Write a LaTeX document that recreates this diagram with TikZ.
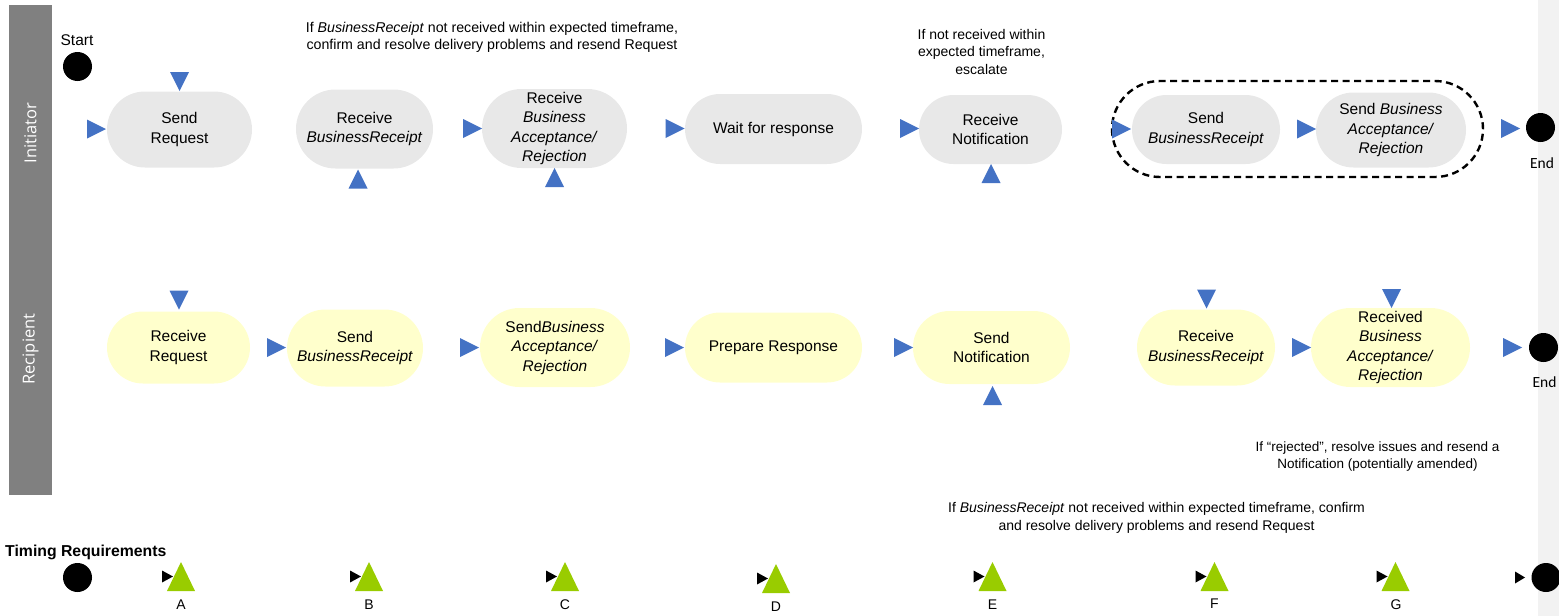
\documentclass[tikz,border=0pt]{standalone}
\usepackage{fontspec}
\setmainfont{Liberation Sans}
\newfontfamily\lanefont{Open Sans}
\newfontfamily\endfont{Carlito}
\definecolor{flowblue}{HTML}{4472C4}
\definecolor{inigray}{HTML}{E8E8E8}
\definecolor{recyellow}{HTML}{FFFFCC}
\definecolor{timegreen}{HTML}{99CC00}
\definecolor{lanegray}{HTML}{808080}
\definecolor{stripgray}{HTML}{F2F2F2}

\begin{document}
\begin{tikzpicture}[x=1pt, y=-1pt,
    box/.style={rectangle, rounded corners=#1, minimum height=2*#1, inner sep=0pt, align=center, font=\fontsize{15.5}{19.5}\selectfont},
    ini/.style={box=#1, fill=inigray},
    rec/.style={box=#1, fill=recyellow},
    note/.style={align=center, inner sep=0pt, font=\fontsize{14}{17.5}\selectfont},
    lane/.style={rotate=90, text=white, inner sep=0pt, font=\lanefont\fontsize{16.5}{16.5}\selectfont},
    endlabel/.style={inner sep=0pt, font=\endfont\fontsize{15.5}{15.5}\selectfont},
    dot/.style={circle, fill=black, minimum size=29pt, inner sep=0pt},
    groupbox/.style={line width=2.4pt, dash pattern=on 7pt off 4.5pt, rounded corners=48pt},
    rtri/.pic={\fill[flowblue] (-9.5,-9.5) -- (9.5,0) -- (-9.5,9.5) -- cycle;},
    dtri/.pic={\fill[flowblue] (-9.5,-9.5) -- (9.5,-9.5) -- (0,9.5) -- cycle;},
    utri/.pic={\fill[flowblue] (-9.5,9.5) -- (9.5,9.5) -- (0,-9.5) -- cycle;},
    timer/.pic={\fill[black] (-19,-6) -- (-8,0) -- (-19,6) -- cycle;
      \fill[timegreen] (-14,14.5) -- (14,14.5) -- (0,-14.5) -- cycle;}
  ]
  \useasboundingbox (0,0) rectangle (1559,616);
  % lanes
  \fill[stripgray] (1538,0) rectangle (1559,616);
  \fill[lanegray] (9,5) rectangle (52,495);
  \node[lane] (lanei) at (30.5,133) {Initiator};
  \node[lane] (laner) at (30.5,349) {Recipient};

  % Initiator
  \node[inner sep=0pt, font=\fontsize{15.5}{15.5}\selectfont] (startlbl) at (77,40.5) {Start};
  \node[dot] (start) at (77.5,66.5) {};
  \node[ini=38pt, minimum width=145pt] (ini1) at (179.5,129.5) {Send\\Request};
  \node[ini=39.5pt, minimum width=137pt] (ini2) at (364.5,129) {Receive\\\textit{BusinessReceipt}};
  \node[ini=39.5pt, minimum width=145pt] (ini3) at (554.5,128.5) {Receive\\\textit{Business}\\\textit{Acceptance/}\\\textit{Rejection}};
  \node[ini=35pt, minimum width=177pt] (ini4) at (773.5,129) {Wait for response};
  \node[ini=34.5pt, minimum width=143pt] (ini5) at (990.5,129.5) {Receive\\Notification};
  \node[ini=34.5pt, minimum width=148pt] (ini6) at (1206,129.5) {Send\\\textit{BusinessReceipt}};
  \node[ini=37.5pt, minimum width=150pt] (ini7) at (1391,130) {Send \textit{Business}\\\textit{Acceptance/}\\\textit{Rejection}};
  \draw[groupbox] (1112,81) rectangle (1483,177);
  \node[dot] (inienda) at (1540.5,127.5) {};
  \node[endlabel] (iniend) at (1542,163) {End};

  \node[note, font=\fontsize{14.2}{17.5}\selectfont] (note1) at (492,37.5) {If \textit{BusinessReceipt} not received within expected timeframe,\\confirm and resolve delivery problems and resend Request};
  \node[note] (note2) at (981.5,51.5) {If not received within\\expected timeframe,\\escalate};

  \pic at (179.5,81.5) {dtri};
  \pic at (96.5,129) {rtri};
  \pic at (358,179) {utri};
  \pic at (472.5,128.5) {rtri};
  \pic at (554.5,177.5) {utri};
  \pic at (675,128.5) {rtri};
  \pic at (909.5,128.5) {rtri};
  \pic at (991,173.5) {utri};
  \pic at (1121.5,129) {rtri};
  \pic at (1306.5,129) {rtri};
  \pic at (1510.5,128.5) {rtri};

  % Recipient
  \node[rec=36pt, minimum width=143pt] (rec1) at (178.5,347.5) {Receive\\Request};
  \node[rec=38.5pt, minimum width=136pt] (rec2) at (355,348) {Send\\\textit{BusinessReceipt}};
  \node[rec=39.5pt, minimum width=150pt] (rec3) at (555,347.5) {Send\textit{Business}\\\textit{Acceptance/}\\\textit{Rejection}};
  \node[rec=35pt, minimum width=177pt] (rec4) at (773.5,347.5) {Prepare Response};
  \node[rec=36.5pt, minimum width=157pt] (rec5) at (991.5,347.5) {Send\\Notification};
  \node[rec=38pt, minimum width=138pt] (rec6) at (1206,347.5) {Receive\\\textit{BusinessReceipt}};
  \node[rec=39.5pt, minimum width=159pt] (rec7) at (1390.5,347.5) {Received\\\textit{Business}\\\textit{Acceptance/}\\\textit{Rejection}};
  \node[dot] (recenda) at (1543.5,347.5) {};
  \node[endlabel] (recend) at (1544.5,382) {End};

  \node[note, font=\fontsize{13.5}{17.5}\selectfont] (note3) at (1377.5,456.5) {If “rejected”, resolve issues and resend a\\Notification (potentially amended)};

  \pic at (179,300) {dtri};
  \pic at (276.5,347.5) {rtri};
  \pic at (469.5,347.5) {rtri};
  \pic at (674.5,347.5) {rtri};
  \pic at (903.5,347.5) {rtri};
  \pic at (992.5,395.5) {utri};
  \pic at (1206.5,299) {dtri};
  \pic at (1301.5,347.5) {rtri};
  \pic at (1391.5,298.5) {dtri};
  \pic at (1512.5,347.5) {rtri};

  % Timing
  \node[note] (note4) at (1156.5,518) {If \textit{BusinessReceipt} not received within expected timeframe, confirm\\and resolve delivery problems and resend Request};
  \node[anchor=west, inner sep=0pt, font=\fontsize{15.8}{17}\bfseries] (timing) at (5,552) {Timing Requirements};
  \node[dot] (tstart) at (77.5,577.5) {};
  \pic at (181,576.5) {timer};
  \pic at (369,576.5) {timer};
  \pic at (565,576.5) {timer};
  \pic at (776,578.5) {timer};
  \pic at (992.5,576.5) {timer};
  \pic at (1214.5,576.5) {timer};
  \pic at (1395.5,576.5) {timer};
  \node[note] (ta) at (181,605) {A};
  \node[note] (tb) at (369,605) {B};
  \node[note] (tc) at (565,605) {C};
  \node[note] (td) at (776,607) {D};
  \node[note] (te) at (992.5,605) {E};
  \node[note] (tf) at (1214.5,604) {F};
  \node[note] (tg) at (1396,605) {G};
  \fill[black] (1515,571.5) -- (1525,577.5) -- (1515,583.5) -- cycle;
  \node[dot] (tend) at (1546,577.5) {};
\end{tikzpicture}
\end{document}
